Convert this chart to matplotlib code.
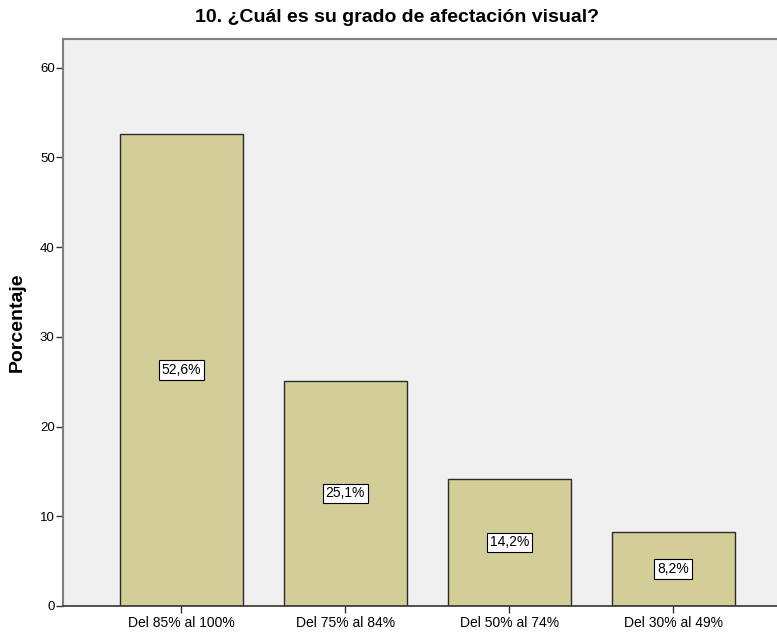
import matplotlib
matplotlib.use('Agg')
import matplotlib.pyplot as plt

# Data
categorias = ['Del 85% al 100%', 'Del 75% al 84%', 'Del 50% al 74%', 'Del 30% al 49%']
porcentajes = [52.6, 25.1, 14.2, 8.2]
etiquetas = ['52,6%', '25,1%', '14,2%', '8,2%']

plt.rcParams['font.family'] = ['Liberation Sans', 'DejaVu Sans']

fig = plt.figure(figsize=(7.77, 6.34), dpi=100)
ax = fig.add_axes([63 / 777, 1 - 606 / 634, 1 - 63 / 777, (606 - 39) / 634])
ax.set_facecolor('#f0f0f0')

x = range(len(categorias))
ax.bar(x, porcentajes, width=0.75, color='#d3ce98', edgecolor='#2b2b2b', linewidth=1.0, zorder=2)

for xi, v, t in zip(x, porcentajes, etiquetas):
    ax.text(xi, v / 2, t, ha='center', va='center', fontsize=10, zorder=3,
            bbox=dict(boxstyle='square,pad=0.2', facecolor='white', edgecolor='black', linewidth=0.8))

ax.set_xlim(-0.7226, 3.634)
ax.set_ylim(0, 63.2)
ax.set_xticks(list(x))
ax.set_xticklabels(categorias, fontsize=10)
ax.set_yticks([0, 10, 20, 30, 40, 50, 60])
ax.tick_params(axis='y', labelsize=9.5, length=5, width=1, color='#333333', pad=1)
ax.tick_params(axis='x', length=5, width=1, color='#333333', pad=2)

for s in ['left', 'top']:
    ax.spines[s].set_color('#808080')
    ax.spines[s].set_linewidth(1.5)
ax.spines['bottom'].set_color('#333333')
ax.spines['bottom'].set_linewidth(1.2)
ax.spines['right'].set_visible(False)

ax.set_ylabel('Porcentaje', fontsize=14, fontweight='bold', labelpad=10)
fig.text(397 / 777, 1 - 18 / 634, '10. ¿Cuál es su grado de afectación visual?',
         ha='center', va='center', fontsize=14, fontweight='bold')

fig.savefig('out.png', dpi=100)
